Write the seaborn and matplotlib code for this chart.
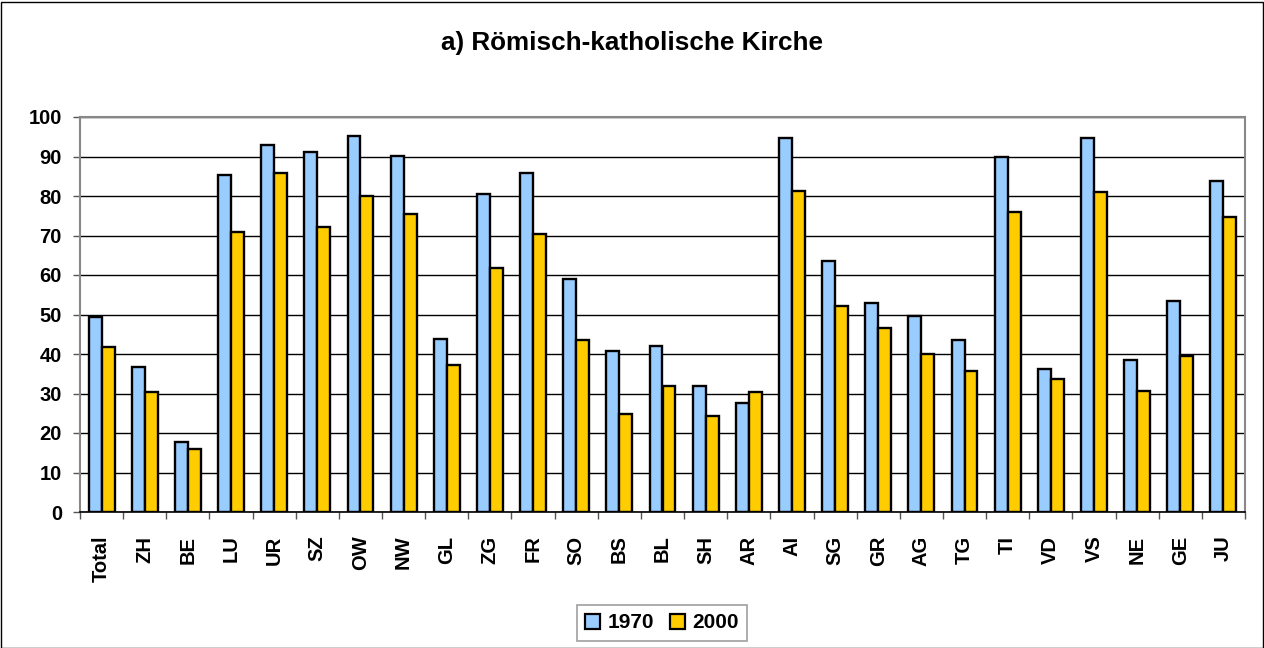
import matplotlib
matplotlib.use("Agg")
import matplotlib.pyplot as plt
import seaborn as sns
import pandas as pd
from matplotlib.patches import Rectangle

cantons = ["Total", "ZH", "BE", "LU", "UR", "SZ", "OW", "NW", "GL", "ZG", "FR", "SO", "BS", "BL",
           "SH", "AR", "AI", "SG", "GR", "AG", "TG", "TI", "VD", "VS", "NE", "GE", "JU"]
v1970 = [49.3, 36.7, 17.7, 85.2, 93.0, 91.2, 95.3, 90.1, 43.8, 80.6, 85.8, 59.0, 40.7, 42.0,
         31.9, 27.6, 94.8, 63.6, 53.0, 49.7, 43.6, 89.8, 36.2, 94.8, 38.4, 53.4, 83.9]
v2000 = [41.7, 30.4, 16.0, 70.8, 85.8, 72.1, 80.1, 75.5, 37.2, 61.8, 70.3, 43.5, 24.9, 32.0,
         24.3, 30.5, 81.3, 52.2, 46.6, 40.1, 35.7, 76.0, 33.6, 81.1, 30.6, 39.5, 74.8]
years = ["1970", "2000"]
title = "a) Römisch-katholische Kirche"

df = pd.DataFrame({
    "Kanton": cantons * 2,
    "Wert": v1970 + v2000,
    "Jahr": [years[0]] * len(cantons) + [years[1]] * len(cantons),
})

sns.set_theme(style="white")
plt.rcParams["font.family"] = ["Liberation Sans", "DejaVu Sans"]
plt.rcParams["font.weight"] = "bold"
plt.rcParams["text.color"] = "black"
plt.rcParams["xtick.color"] = "black"
plt.rcParams["ytick.color"] = "black"

fig = plt.figure(figsize=(12.64, 6.48), dpi=100)
ax = fig.add_axes([80 / 1264, 1 - 512 / 648, (1245 - 80) / 1264, (512 - 117) / 648])

sns.barplot(data=df, x="Kanton", y="Wert", hue="Jahr", order=cantons,
            palette=["#99CCFF", "#FFCC00"], width=0.6, edgecolor="black",
            linewidth=1.7, ax=ax, legend=True, saturation=1)

ax.set_ylim(0, 100)
ax.set_xlim(-0.5, len(cantons) - 0.5)
ax.set_yticks(range(0, 101, 10))
ax.yaxis.grid(True, color="black", linewidth=1)
ax.set_axisbelow(True)
ax.set_xlabel("")
ax.set_ylabel("")

for s in ["top", "right", "left"]:
    ax.spines[s].set_visible(True)
    ax.spines[s].set_color("#888888")
    ax.spines[s].set_linewidth(1.5)
ax.spines["bottom"].set_color("black")
ax.spines["bottom"].set_linewidth(1.2)

ax.tick_params(axis="y", which="major", length=5, width=1, color="#555555",
               direction="out", left=True, labelsize=14.5, pad=8, labelcolor="black")
ax.tick_params(axis="x", which="major", length=0, labelsize=14.5, rotation=90, pad=17,
               labelcolor="black")
ax.set_xticks([i - 0.5 for i in range(len(cantons) + 1)], minor=True)
ax.tick_params(axis="x", which="minor", length=5, width=1, color="#555555",
               direction="out", bottom=True)
for lab in ax.get_xticklabels() + ax.get_yticklabels():
    lab.set_fontweight("bold")

ax.get_legend().remove()
handles, labels = ax.get_legend_handles_labels()
leg = fig.legend(handles[:2], labels[:2], loc="center", bbox_to_anchor=(662 / 1264, 1 - 623 / 648),
                 ncol=2, frameon=True, fancybox=False, edgecolor="#888888",
                 prop={"weight": "bold", "size": 15}, handlelength=0.72, handleheight=0.72,
                 handletextpad=0.38, columnspacing=0.72, borderpad=0.4, borderaxespad=0)
leg.get_frame().set_linewidth(1.2)
for h in leg.legend_handles:
    h.set_linewidth(1.6)
    h.set_edgecolor("black")

fig.text(0.5, 1 - 43 / 648, title, ha="center", va="center", fontsize=18.8, fontweight="bold",
         color="black")

fig.patches.append(Rectangle((0.5 / 1264, 0.5 / 648), 1 - 2 / 1264, 1 - 2 / 648,
                             transform=fig.transFigure, fill=False, edgecolor="black",
                             linewidth=1, zorder=10))

fig.savefig("out.png", dpi=100)
